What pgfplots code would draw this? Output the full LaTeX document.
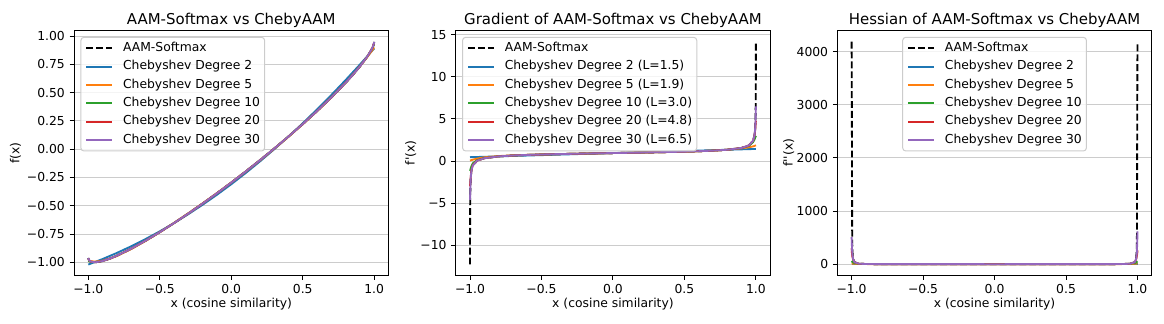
\documentclass[border=0pt]{standalone}
\usepackage{fontspec}
\newfontfamily\dv{DejaVu Sans}
\usepackage{pgfplots}
\pgfplotsset{compat=1.18}
\definecolor{c0}{HTML}{1F77B4}
\definecolor{c1}{HTML}{FF7F0E}
\definecolor{c2}{HTML}{2CA02C}
\definecolor{c3}{HTML}{D62728}
\definecolor{c4}{HTML}{9467BD}
\pgfplotsset{
  base/.style={
    scale only axis, width=157.25bp, height=122.4bp,
    anchor=south west,
    enlargelimits=false,
    xmin=-1.1, xmax=1.1,
    xtick={-1,-0.5,0,0.5,1},
    xticklabels={−1.0,−0.5,0.0,0.5,1.0},
    axis line style={line width=0.5bp},
    tick style={line width=0.5bp, black},
    tick align=outside, major tick length=2.2bp,
    xtick pos=bottom, ytick pos=left,
    minor tick num=0,
    ymajorgrids, major grid style={line width=0.5bp, color=black!20},
    tick label style={font=\fontsize{6.2}{7}\selectfont},
    xticklabel style={inner sep=0pt, anchor=north, yshift=-2.2bp},
    yticklabel style={inner sep=0pt, anchor=east, xshift=-2.2bp},
    xlabel={x (cosine similarity)},
    every axis x label/.style={at={(0.5,0)}, anchor=base, yshift=-16.3bp, inner sep=0pt, font=\fontsize{6.2}{7}\selectfont},
    every axis y label/.style={rotate=90, anchor=base, inner sep=0pt, font=\fontsize{6.2}{7}\selectfont},
    every axis title/.style={at={(0.5,1)}, anchor=base, yshift=2.8bp, inner sep=0pt, font=\fontsize{7.5}{9}\selectfont},
    legend style={
      anchor=north west, at={(0.0204,0.974)},
      draw=black!20, line width=0.5bp, rounded corners=1.5bp,
      fill=white, fill opacity=0.8, draw opacity=1, text opacity=1,
      inner xsep=2.3bp, inner ysep=2.4bp,
      row sep=2.9bp, column sep=5bp,
      font=\fontsize{6.2}{7}\selectfont,
      nodes={inner sep=0pt, text height=4.75bp, text depth=1.5bp},
      cells={anchor=west},
    },
    legend cell align=left,
    legend image code/.code={\draw[##1] (0bp,0bp) -- (12.85bp,0bp);},
  },
  aam/.style={black, line width=0.93bp, dash pattern=on 3.45bp off 1.5bp},
  s0/.style={c0, line width=0.93bp, line join=round},
  s1/.style={c1, line width=0.93bp, line join=round},
  s2/.style={c2, line width=0.93bp, line join=round},
  s3/.style={c3, line width=0.93bp, line join=round},
  s4/.style={c4, line width=0.93bp, line join=round},
}
\begin{document}
\dv
\begin{tikzpicture}
\path[use as bounding box] (0,0) rectangle (582bp,162bp);
% ---------------- Panel 1 ----------------
\begin{axis}[base, at={(37bp,24.35bp)},
  ymin=-1.115, ymax=1.049,
  ytick={-1,-0.75,-0.5,-0.25,0,0.25,0.5,0.75,1},
  yticklabels={−1.00,−0.75,−0.50,−0.25,0.00,0.25,0.50,0.75,1.00},
  ylabel={f(x)},
  ylabel style={at={([xshift=-27.35bp]axis description cs:0,0.5)}},
  title={AAM-Softmax vs ChebyAAM},
]
\addplot[aam] coordinates {(-0.99975,-0.9617) (-0.999,-0.9676) (-0.995,-0.9801) (-0.99,-0.9875) (-0.98,-0.9950) (-0.97,-0.9985) (-0.95,-0.9999) (-0.9,-0.9886) (-0.85,-0.9677) (-0.8,-0.9416) (-0.7,-0.8798) (-0.6,-0.8096) (-0.5,-0.7336) (-0.4,-0.6530) (-0.3,-0.5685) (-0.2,-0.4806) (-0.1,-0.3896) (0,-0.2955) (0.1,-0.1985) (0.2,-0.0985) (0.3,0.0047) (0.4,0.1113) (0.5,0.2217) (0.6,0.3368) (0.7,0.4577) (0.8,0.5870) (0.85,0.6564) (0.9,0.7310) (0.95,0.8153) (0.97,0.8548) (0.98,0.8774) (0.99,0.9041) (0.995,0.9211) (0.999,0.9412) (0.99975,0.9485)};
\addlegendentry{AAM-Softmax}
\addplot[s0] coordinates {(-1,-1.0200) (-0.9,-0.9711) (-0.8,-0.9172) (-0.7,-0.8585) (-0.6,-0.7948) (-0.5,-0.7263) (-0.4,-0.6528) (-0.3,-0.5745) (-0.2,-0.4912) (-0.1,-0.4031) (0,-0.3100) (0.1,-0.2121) (0.2,-0.1092) (0.3,-0.0015) (0.4,0.1112) (0.5,0.2288) (0.6,0.3512) (0.7,0.4786) (0.8,0.6108) (0.9,0.7480) (1,0.8900)};
\addlegendentry{Chebyshev Degree 2}
\addplot[s1] coordinates {(-1,-0.9900) (-0.99,-0.9905) (-0.98,-0.9912) (-0.95,-0.9935) (-0.9,-0.9855) (-0.85,-0.9680) (-0.8,-0.9445) (-0.7,-0.8835) (-0.6,-0.8120) (-0.5,-0.7345) (-0.4,-0.6520) (-0.3,-0.5665) (-0.2,-0.4785) (-0.1,-0.3880) (0,-0.2950) (0.1,-0.1990) (0.2,-0.1000) (0.3,0.0025) (0.4,0.1090) (0.5,0.2195) (0.6,0.3350) (0.7,0.4570) (0.8,0.5875) (0.85,0.6580) (0.9,0.7325) (0.95,0.8120) (0.98,0.8630) (0.99,0.8810) (1,0.8995)};
\addlegendentry{Chebyshev Degree 5}
\addplot[s2] coordinates {(-1,-0.9848) (-0.99,-0.9936) (-0.98,-0.9979) (-0.95,-0.9999) (-0.9,-0.9886) (-0.85,-0.9677) (-0.8,-0.9416) (-0.7,-0.8798) (-0.6,-0.8096) (-0.5,-0.7336) (-0.4,-0.6530) (-0.3,-0.5685) (-0.2,-0.4806) (-0.1,-0.3896) (0,-0.2955) (0.1,-0.1985) (0.2,-0.0985) (0.3,0.0047) (0.4,0.1113) (0.5,0.2217) (0.6,0.3368) (0.7,0.4577) (0.8,0.5870) (0.85,0.6564) (0.9,0.7310) (0.95,0.8153) (0.98,0.8761) (0.99,0.9001) (1,0.9279)};
\addlegendentry{Chebyshev Degree 10}
\addplot[s3] coordinates {(-1,-0.9679) (-0.995,-0.9801) (-0.99,-0.9875) (-0.98,-0.9950) (-0.95,-0.9999) (-0.9,-0.9886) (-0.85,-0.9677) (-0.8,-0.9416) (-0.7,-0.8798) (-0.6,-0.8096) (-0.5,-0.7336) (-0.4,-0.6530) (-0.3,-0.5685) (-0.2,-0.4806) (-0.1,-0.3896) (0,-0.2955) (0.1,-0.1985) (0.2,-0.0985) (0.3,0.0047) (0.4,0.1113) (0.5,0.2217) (0.6,0.3368) (0.7,0.4577) (0.8,0.5870) (0.85,0.6564) (0.9,0.7310) (0.95,0.8153) (0.98,0.8774) (0.99,0.9044) (0.995,0.9212) (1,0.9424)};
\addlegendentry{Chebyshev Degree 20}
\addplot[s4] coordinates {(-1,-0.9625) (-0.998,-0.9707) (-0.995,-0.9791) (-0.99,-0.9869) (-0.98,-0.9950) (-0.95,-0.9999) (-0.9,-0.9886) (-0.85,-0.9677) (-0.8,-0.9416) (-0.7,-0.8798) (-0.6,-0.8096) (-0.5,-0.7336) (-0.4,-0.6530) (-0.3,-0.5685) (-0.2,-0.4806) (-0.1,-0.3896) (0,-0.2955) (0.1,-0.1985) (0.2,-0.0985) (0.3,0.0047) (0.4,0.1113) (0.5,0.2217) (0.6,0.3368) (0.7,0.4577) (0.8,0.5870) (0.85,0.6564) (0.9,0.7310) (0.95,0.8153) (0.98,0.8774) (0.99,0.9046) (0.995,0.9220) (0.998,0.9357) (1,0.9474)};
\addlegendentry{Chebyshev Degree 30}
\end{axis}
% ---------------- Panel 2 ----------------
\begin{axis}[base, at={(227.85bp,24.35bp)},
  ymin=-13.55, ymax=15.5,
  ytick={-10,-5,0,5,10,15},
  yticklabels={−10,−5,0,5,10,15},
  ylabel={f'(x)},
  ylabel style={at={([xshift=-20.6bp]axis description cs:0,0.5)}},
  title={Gradient of AAM-Softmax vs ChebyAAM},
]
\addplot[aam] coordinates {(-0.99975,-12.259) (-0.9995,-8.386) (-0.999,-5.648) (-0.998,-3.711) (-0.995,-1.989) (-0.99,-1.119) (-0.98,-0.500) (-0.95,0.056) (-0.9,0.345) (-0.8,0.561) (-0.7,0.666) (-0.6,0.734) (-0.5,0.785) (-0.4,0.826) (-0.3,0.862) (-0.2,0.895) (-0.1,0.926) (0,0.955) (0.1,0.985) (0.2,1.016) (0.3,1.048) (0.4,1.084) (0.5,1.126) (0.6,1.177) (0.7,1.245) (0.8,1.349) (0.9,1.566) (0.95,1.854) (0.98,2.411) (0.99,3.029) (0.995,3.899) (0.998,5.621) (0.999,7.558) (0.9995,10.297) (0.99975,14.169)};
\addlegendentry{AAM-Softmax}
\addplot[s0] coordinates {(-1,0.465) (0,0.955) (1,1.445)};
\addlegendentry{Chebyshev Degree 2 (L=1.5)}
\addplot[s1] coordinates {(-1,0.07) (-0.99,0.12) (-0.98,0.17) (-0.95,0.30) (-0.9,0.45) (-0.8,0.60) (-0.7,0.68) (-0.6,0.74) (-0.5,0.78) (-0.4,0.82) (-0.3,0.86) (-0.2,0.89) (-0.1,0.92) (0,0.955) (0.1,0.99) (0.2,1.02) (0.3,1.05) (0.4,1.08) (0.5,1.12) (0.6,1.17) (0.7,1.24) (0.8,1.35) (0.9,1.52) (0.95,1.64) (0.98,1.75) (0.99,1.80) (1,1.88)};
\addlegendentry{Chebyshev Degree 5 (L=1.9)}
\addplot[s2] coordinates {(-1,-1.15) (-0.99,-0.60) (-0.98,-0.25) (-0.95,0.12) (-0.9,0.36) (-0.8,0.56) (-0.7,0.666) (-0.6,0.734) (-0.5,0.785) (-0.4,0.826) (-0.3,0.862) (-0.2,0.895) (-0.1,0.926) (0,0.955) (0.1,0.985) (0.2,1.016) (0.3,1.048) (0.4,1.084) (0.5,1.126) (0.6,1.177) (0.7,1.245) (0.8,1.35) (0.9,1.55) (0.95,1.80) (0.98,2.25) (0.99,2.55) (1,3.0)};
\addlegendentry{Chebyshev Degree 10 (L=3.0)}
\addplot[s3] coordinates {(-1,-3.0) (-0.995,-1.9) (-0.99,-1.05) (-0.98,-0.45) (-0.95,0.06) (-0.9,0.345) (-0.8,0.561) (-0.7,0.666) (-0.6,0.734) (-0.5,0.785) (-0.4,0.826) (-0.3,0.862) (-0.2,0.895) (-0.1,0.926) (0,0.955) (0.1,0.985) (0.2,1.016) (0.3,1.048) (0.4,1.084) (0.5,1.126) (0.6,1.177) (0.7,1.245) (0.8,1.349) (0.9,1.566) (0.95,1.85) (0.98,2.40) (0.99,3.0) (0.995,3.7) (1,4.8)};
\addlegendentry{Chebyshev Degree 20 (L=4.8)}
\addplot[s4] coordinates {(-1,-4.6) (-0.998,-3.6) (-0.995,-2.0) (-0.99,-1.12) (-0.98,-0.50) (-0.95,0.056) (-0.9,0.345) (-0.8,0.561) (-0.7,0.666) (-0.6,0.734) (-0.5,0.785) (-0.4,0.826) (-0.3,0.862) (-0.2,0.895) (-0.1,0.926) (0,0.955) (0.1,0.985) (0.2,1.016) (0.3,1.048) (0.4,1.084) (0.5,1.126) (0.6,1.177) (0.7,1.245) (0.8,1.349) (0.9,1.566) (0.95,1.854) (0.98,2.41) (0.99,3.03) (0.995,3.9) (0.998,5.2) (1,6.5)};
\addlegendentry{Chebyshev Degree 30 (L=6.5)}
\end{axis}
% ---------------- Panel 3 ----------------
\begin{axis}[base, at={(418.65bp,24.35bp)},
  ymin=-209, ymax=4399,
  ytick={0,1000,2000,3000,4000},
  yticklabels={0,1000,2000,3000,4000},
  ylabel={f''(x)},
  ylabel style={at={([xshift=-22.3bp]axis description cs:0,0.5)}},
  title={Hessian of AAM-Softmax vs ChebyAAM},
  legend style={anchor=north, at={(0.5,0.974)}},
]
\addplot[aam] coordinates {(-0.99975,4190) (-0.9978,2500) (-0.9958,440) (-0.9938,227) (-0.99,105) (-0.98,37.5) (-0.95,9.7) (-0.9,3.57) (-0.8,1.37) (-0.7,0.811) (-0.6,0.577) (-0.5,0.455) (-0.4,0.384) (-0.3,0.340) (-0.2,0.314) (-0.1,0.300) (0,0.2955) (0.1,0.300) (0.2,0.314) (0.3,0.340) (0.4,0.384) (0.5,0.455) (0.6,0.577) (0.7,0.811) (0.8,1.37) (0.9,3.57) (0.95,9.7) (0.98,37.5) (0.99,105) (0.9938,227) (0.9958,440) (0.9978,2500) (0.99975,4190)};
\addlegendentry{AAM-Softmax}
\addplot[s0] coordinates {(-1,0.49) (0,0.49) (1,0.49)};
\addlegendentry{Chebyshev Degree 2}
\addplot[s1] coordinates {(-1,12) (-0.99,10) (-0.98,8) (-0.95,4.5) (-0.9,2.5) (-0.8,1.3) (-0.5,0.5) (0,0.3) (0.5,0.5) (0.8,1.3) (0.9,2.5) (0.95,4.5) (0.98,8) (0.99,10) (1,12)};
\addlegendentry{Chebyshev Degree 5}
\addplot[s2] coordinates {(-1,60) (-0.995,45) (-0.99,32) (-0.98,20) (-0.95,8) (-0.9,3.5) (-0.8,1.4) (-0.5,0.46) (0,0.3) (0.5,0.46) (0.8,1.4) (0.9,3.5) (0.95,8) (0.98,20) (0.99,30) (0.995,42) (1,55)};
\addlegendentry{Chebyshev Degree 10}
\addplot[s3] coordinates {(-1,300) (-0.998,220) (-0.995,150) (-0.99,90) (-0.98,36) (-0.95,9.7) (-0.9,3.6) (-0.8,1.37) (-0.5,0.455) (0,0.2955) (0.5,0.455) (0.8,1.37) (0.9,3.6) (0.95,9.7) (0.98,36) (0.99,90) (0.995,150) (0.998,200) (1,260)};
\addlegendentry{Chebyshev Degree 20}
\addplot[s4] coordinates {(-1,510) (-0.998,360) (-0.995,190) (-0.99,100) (-0.98,37) (-0.95,9.7) (-0.9,3.6) (-0.8,1.37) (-0.5,0.455) (0,0.2955) (0.5,0.455) (0.8,1.37) (0.9,3.6) (0.95,9.7) (0.98,37) (0.99,100) (0.995,200) (0.998,400) (1,620)};
\addlegendentry{Chebyshev Degree 30}
\end{axis}
\end{tikzpicture}
\end{document}
